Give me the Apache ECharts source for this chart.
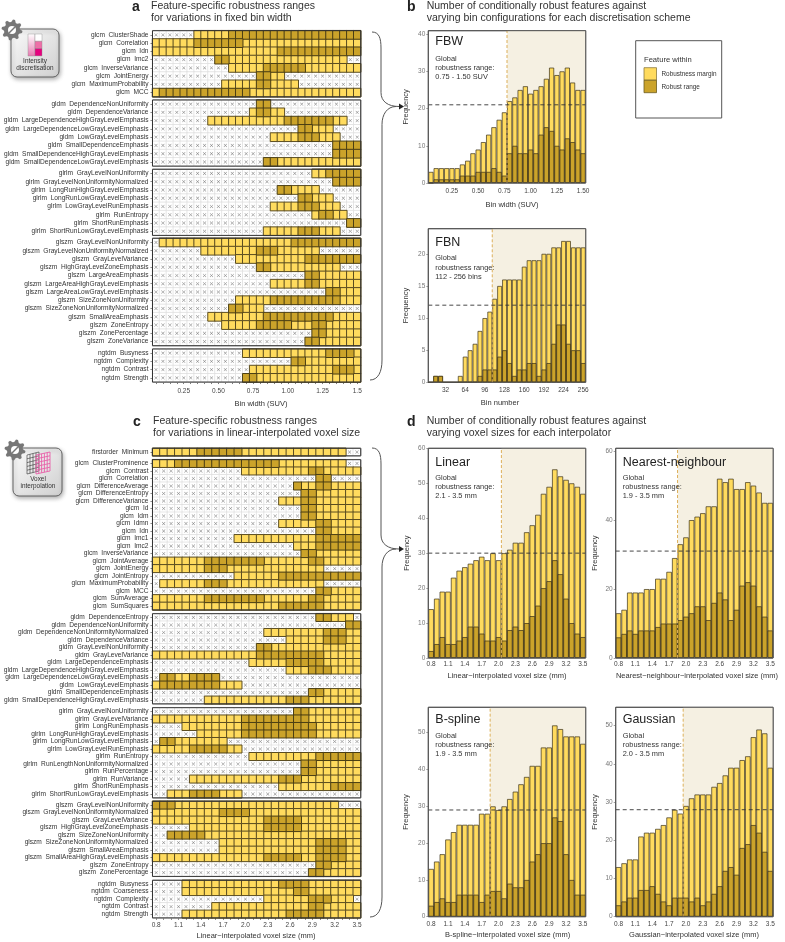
<!DOCTYPE html>
<html lang="en">
<head>
<meta charset="UTF-8" />
<title>Robustness ranges</title>
<script src="https://cdn.jsdelivr.net/npm/echarts@6/dist/echarts.min.js"></script>
<style>
  html, body { margin: 0; padding: 0; background: #fff; }
  #main { width: 785px; height: 942px; }
</style>
</head>
<body>
<div id="main"></div>
<script>
// x axes
const fbwBins = ['0.05','0.10','0.15','0.20','0.25','0.30','0.35','0.40','0.45','0.50','0.55','0.60','0.65','0.70','0.75','0.80','0.85','0.90','0.95','1.00','1.05','1.10','1.15','1.20','1.25','1.30','1.35','1.40','1.45','1.50'];
const fbnBins = ['8','16','24','32','40','48','56','64','72','80','88','96','104','112','120','128','136','144','152','160','168','176','184','192','200','208','216','224','232','240','248','256'];
const voxelBins = ['0.8','0.9','1.0','1.1','1.2','1.3','1.4','1.5','1.6','1.7','1.8','1.9','2.0','2.1','2.2','2.3','2.4','2.5','2.6','2.7','2.8','2.9','3.0','3.1','3.2','3.3','3.4','3.5'];
const fbwTicks = ['0.25','0.50','0.75','1.00','1.25','1.50'];
const fbnTicks = ['32','64','96','128','160','192','224','256'];
const voxelTicks = ['0.8','1.1','1.4','1.7','2.0','2.3','2.6','2.9','3.2','3.5'];

// histogram counts: all = feature within margin, robust = within robust range
const fbwAll = [3,4,4,4,4,4,5,6,8,9,11,13,15,17,19,22,23,25,26,24,25,26,28,31,29,30,31,27,25,25];
const fbwRobust = [0,1,1,1,1,1,2,2,2,3,3,3,4,3,2,8,10,8,8,9,8,13,15,14,10,9,12,11,9,8];
const fbnAll = [0,1,1,0,0,0,1,4,5,6,8,10,11,13,15,16,16,16,16,18,19,19,19,20,20,21,21,22,22,21,21,21];
const fbnRobust = [0,1,1,0,0,0,0,0,0,0,1,2,2,2,4,5,3,1,2,2,3,3,1,2,3,6,9,9,6,5,5,3];
const linearAll = [14,17,19,19,23,25,26,27,28,29,28,30,28,30,31,33,33,36,38,41,47,49,54,52,51,50,49,47];
const linearRobust = [2,4,6,4,4,5,6,9,9,7,5,5,6,5,8,9,8,10,12,15,20,22,28,24,17,10,7,6];
const nearestAll = [13,14,19,19,19,20,20,23,23,25,29,33,35,40,41,42,44,44,52,51,52,49,49,51,50,48,45,45];
const nearestRobust = [6,7,8,7,8,8,8,9,10,10,10,11,12,13,15,15,11,16,19,17,11,14,21,22,21,15,12,8];
const bsplineAll = [13,15,17,21,23,25,25,25,25,28,28,30,29,30,32,34,36,38,41,41,46,46,52,51,49,49,49,47];
const bsplineRobust = [3,4,5,4,4,6,6,6,6,4,6,7,7,5,9,8,8,10,15,17,20,20,27,26,17,10,6,6];
const gaussianAll = [13,14,15,15,21,22,22,23,24,26,28,27,29,31,32,32,32,34,35,37,39,39,41,42,47,49,48,39];
const gaussianRobust = [3,4,5,5,7,7,8,6,4,3,5,5,5,4,5,3,4,6,8,12,13,11,18,19,24,22,17,12];

// heat rows: number of cells + x (not robust) / m (margin) / r (robust range)
const binGlcm = [
  ['ClusterShade','6x 5m 19r'], ['Correlation','6m 7r 17m'], ['Idn','18m 12r'], ['Imc2','9x 2r 17m 2x'],
  ['InverseVariance','11x 5m 6r 8m'], ['JointEnergy','15x 2r 2m 11x'], ['MaximumProbability','10x 5m 2r 4m 9x'], ['MCC','1m 13r 16m']
];
const binGldm = [
  ['DependenceNonUniformity','15x 2r 13x'], ['DependenceVariance','14x 1m 2r 2m 11x'],
  ['LargeDependenceHighGrayLevelEmphasis','8x 11m 7r 2m 2x'], ['LargeDependenceLowGrayLevelEmphasis','21x 2r 3m 4x'],
  ['LowGrayLevelEmphasis','17x 4m 3r 3m 3x'], ['SmallDependenceEmphasis','26x 4r'],
  ['SmallDependenceHighGrayLevelEmphasis','26x 4r'], ['SmallDependenceLowGrayLevelEmphasis','16x 2r 12m']
];
const binGlrlm = [
  ['GrayLevelNonUniformity','23x 2m 5r'], ['GrayLevelNonUniformityNormalized','26x 4r'],
  ['LongRunHighGrayLevelEmphasis','18x 2r 4m 6x'], ['LongRunLowGrayLevelEmphasis','21x 2r 3m 4x'],
  ['LowGrayLevelRunEmphasis','17x 4m 3r 3m 3x'], ['RunEntropy','23x 1m 2r 2m 2x'],
  ['ShortRunEmphasis','28x 2r'], ['ShortRunLowGrayLevelEmphasis','16x 5m 3r 3m 3x']
];
const binGlszm = [
  ['GrayLevelNonUniformity','1x 19m 10r'], ['GrayLevelNonUniformityNormalized','7x 8m 3r 6m 6x'],
  ['GrayLevelVariance','12x 10m 8r'], ['HighGrayLevelZoneEmphasis','15x 2r 10m 3x'],
  ['LargeAreaEmphasis','22x 2r 6m'], ['LargeAreaHighGrayLevelEmphasis','17x 5m 2r 6m'],
  ['LargeAreaLowGrayLevelEmphasis','25x 2r 3m'], ['SizeZoneNonUniformity','12x 5m 10r 3m'],
  ['SizeZoneNonUniformityNormalized','11x 2r 3m 14x'], ['SmallAreaEmphasis','8x 8m 10r 4m'],
  ['ZoneEntropy','10x 5m 5r 3m 2r 5m'], ['ZonePercentage','23x 2r 5m'], ['ZoneVariance','22x 2r 6m']
];
const binNgtdm = [
  ['Busyness','13x 12m 4r 1m'], ['Complexity','20x 2r 8m'], ['Contrast','14x 12m 3r 1m'], ['Strength','13x 2r 15m']
];

const voxFirstorder = [['Minimum','6m 6r 14m 2x']];
const voxGlcm = [
  ['ClusterProminence','3m 14r 9m 2x'], ['Contrast','12x 9m 2r 5m'], ['Correlation','22x 2r 4x'],
  ['DifferenceAverage','19x 1r 2m 2r 4m'], ['DifferenceEntropy','20x 2r 6m'], ['DifferenceVariance','17x 3m 2r 6m'],
  ['Id','20x 2r 6m'], ['Idm','20x 2r 6m'], ['Idmn','17x 5m 2r 4m'], ['Idn','22x 2r 4m'],
  ['Imc1','11x 11m 6r'], ['Imc2','19x 3m 6r'], ['InverseVariance','20x 2r 6m'], ['JointAverage','7m 8r 6m 2r 5m'],
  ['JointEnergy','7m 3r 13m 5x'], ['JointEntropy','11x 6m 11r'], ['MaximumProbability','1x 6m 3r 13m 5x'],
  ['MCC','22x 2r 4m'], ['SumAverage','7m 8r 6m 2r 5m'], ['SumSquares','17m 6r 5m']
];
const voxGldm = [
  ['DependenceEntropy','22x 2r 3m 1x'], ['DependenceNonUniformity','26x 2r'],
  ['DependenceNonUniformityNormalized','15x 8m 3r 2m'], ['DependenceVariance','18x 5m 3r 2m'],
  ['GrayLevelNonUniformity','14x 2r 12m'], ['GrayLevelVariance','14m 9r 5m'],
  ['LargeDependenceEmphasis','13x 5m 5r 5m'], ['LargeDependenceHighGrayLevelEmphasis','18x 3m 3r 4m'],
  ['LargeDependenceLowGrayLevelEmphasis','1x 2r 2m 4r 19x'], ['LowGrayLevelEmphasis','1m 8r 3m 16x'],
  ['SmallDependenceEmphasis','21x 2r 5m'], ['SmallDependenceHighGrayLevelEmphasis','7x 11m 3r 7m']
];
const voxGlrlm = [
  ['GrayLevelNonUniformity','19x 2r 7m'], ['GrayLevelVariance','12m 9r 7m'], ['LongRunEmphasis','4x 8m 10r 6m'],
  ['LongRunHighGrayLevelEmphasis','6x 6m 10r 6m'], ['LongRunLowGrayLevelEmphasis','1x 2r 7m 18x'],
  ['LowGrayLevelRunEmphasis','5m 5r 2m 16x'], ['RunEntropy','13x 9m 6r'],
  ['RunLengthNonUniformityNormalized','20x 2r 6m'], ['RunPercentage','20x 2r 6m'], ['RunVariance','5x 12m 3r 8m'],
  ['ShortRunEmphasis','17x 7m 4r'], ['ShortRunLowGrayLevelEmphasis','2x 3m 4r 3m 16x']
];
const voxGlszm = [
  ['GrayLevelNonUniformity','3r 22m 3x'], ['GrayLevelNonUniformityNormalized','9m 4r 15m'],
  ['GrayLevelVariance','15m 5r 8m'], ['HighGrayLevelZoneEmphasis','5x 10m 5r 8m'],
  ['SizeZoneNonUniformity','2x 5r 21m'], ['SizeZoneNonUniformityNormalized','9x 13m 4r 2m'],
  ['SmallAreaEmphasis','9x 13m 4r 2m'], ['SmallAreaHighGrayLevelEmphasis','15m 5r 2m 4r 2m'],
  ['ZoneEntropy','22x 2r 4m'], ['ZonePercentage','21x 2r 5m']
];
const voxNgtdm = [
  ['Busyness','4x 13m 4r 7m'], ['Coarseness','4x 15m 2r 7m'], ['Complexity','15x 6m 3r 3m 1x'],
  ['Contrast','8x 13m 2r 5m'], ['Strength','4x 14m 5r 5m']
];

const FONT = '"Liberation Sans", Arial, sans-serif';
const YELLOW = '#FFDB5E';
const GOLD = '#CBA32A';
const CROSS = 'path://M1 0L5 4L9 0L10 1L6 5L10 9L9 10L5 6L1 10L0 9L4 5L0 1Z';

const grids = [], xAxes = [], yAxes = [], seriesList = [], graphics = [];

function txt(x, y, text, size, extra) {
  graphics.push({
    type: 'text', x: x, y: y, silent: true, z: 50,
    style: Object.assign({ text: text, font: size + 'px ' + FONT, fill: '#333', verticalAlign: 'middle', align: 'left' }, extra)
  });
}

function frame(x, y, w, h, color) {
  graphics.push({ type: 'rect', silent: true, z: 40, shape: { x: x, y: y, width: w, height: h }, style: { fill: 'none', stroke: color, lineWidth: 1 } });
}

function expandRuns(runs) {
  const cells = [];
  runs.split(' ').forEach(function (run) {
    const n = parseInt(run);
    const state = 'xmr'.indexOf(run.slice(-1));
    for (let i = 0; i < n; i++) cells.push(state);
  });
  return cells;
}

// one facet of the cell chart
function heatFacet(prefix, rows, bins, ticks, left, width, top, rowH, isLast, margin) {
  const idx = grids.length;
  grids.push({ left: left, width: width, top: top, height: rows.length * rowH, show: true, borderColor: '#333', borderWidth: 1, backgroundColor: '#fff' });
  xAxes.push({
    gridIndex: idx, type: 'category', data: bins, position: 'bottom',
    axisLine: { show: false },
    axisTick: { show: isLast, interval: 0, alignWithLabel: true, length: 2, lineStyle: { color: '#444', width: 0.7 } },
    axisLabel: {
      show: isLast, margin: margin, fontSize: 6.5, fontFamily: FONT, color: '#444', hideOverlap: false,
      interval: function (i, v) { return ticks.indexOf(v) >= 0; },
      formatter: function (v) { return v === '1.50' ? '1.5' : v; }
    },
    splitLine: { show: false }
  });
  yAxes.push({
    gridIndex: idx, type: 'category', inverse: true,
    data: rows.map(function (r) { return prefix + '  ' + r[0]; }),
    axisLine: { show: false },
    axisTick: { show: true, interval: 0, alignWithLabel: true, length: 2, lineStyle: { color: '#444', width: 0.7 } },
    axisLabel: { interval: 0, margin: 4, fontSize: 6.6, fontFamily: FONT, color: '#333', hideOverlap: false },
    splitLine: { show: false }
  });
  const buckets = [[], [], []];
  rows.forEach(function (r, ri) {
    expandRuns(r[1]).forEach(function (s, ci) { buckets[s].push([ci, ri, s]); });
  });
  const cellStyles = [
    { color: '#fff', borderColor: '#dcdcdc', borderWidth: 0.7 },
    { color: YELLOW, borderColor: '#5a4c20', borderWidth: 1 },
    { color: GOLD, borderColor: '#4a3e14', borderWidth: 1 }
  ];
  ['Not robust', 'Robustness margin', 'Robust range'].forEach(function (name, s) {
    seriesList.push({
      type: 'heatmap', name: name, xAxisIndex: idx, yAxisIndex: idx, data: buckets[s],
      itemStyle: cellStyles[s], emphasis: { disabled: true }, progressive: 0, silent: true, z: 2 + s
    });
  });
  seriesList.push({
    type: 'scatter', xAxisIndex: idx, yAxisIndex: idx, data: buckets[0].map(function (d) { return [d[0], d[1]]; }),
    symbol: CROSS, symbolSize: 3.4, itemStyle: { color: '#666' }, silent: true, z: 6
  });
  frame(left, top, width, rows.length * rowH, '#333');
}

// one histogram panel
function histogram(cfg) {
  const idx = grids.length;
  const xMain = xAxes.length;
  const n = cfg.bins.length;
  grids.push({ left: cfg.left, width: 157.4, top: cfg.top, height: cfg.height, show: true, borderColor: '#555', borderWidth: 1, backgroundColor: '#fff' });
  xAxes.push({
    gridIndex: idx, type: 'category', data: cfg.bins,
    axisLine: { show: false },
    axisTick: { interval: 0, alignWithLabel: true, length: 2, lineStyle: { color: '#444', width: 0.7 } },
    axisLabel: {
      margin: cfg.margin, fontSize: 6.5, fontFamily: FONT, color: '#444', hideOverlap: false,
      interval: function (i, v) { return cfg.ticks.indexOf(v) >= 0; }
    }
  });
  yAxes.push({
    gridIndex: idx, type: 'value', min: 0, max: cfg.ymax,
    name: 'Frequency', nameLocation: 'middle', nameGap: cfg.nameGap, nameTextStyle: { fontSize: 7.5, fontFamily: FONT, color: '#333' },
    axisLine: { show: false }, splitLine: { show: false },
    axisTick: { length: 2, lineStyle: { color: '#777', width: 0.7 }, customValues: cfg.yTicks },
    axisLabel: { margin: 3, fontSize: 6.5, fontFamily: FONT, color: '#777', customValues: cfg.yTicks }
  });
  // hidden axis in bin units, for the range shading and threshold lines
  const xLine = xAxes.length;
  xAxes.push({ gridIndex: idx, type: 'value', min: 0, max: n, show: false });
  seriesList.push({
    type: 'line', xAxisIndex: xLine, yAxisIndex: idx, data: [], silent: true, z: 1,
    markArea: { silent: true, itemStyle: { color: '#F5F0E2' }, data: [[{ coord: [cfg.startBin, 0] }, { coord: [n, cfg.ymax] }]] }
  });
  const barStyle = function (c) { return { color: c, borderColor: 'rgba(50,42,20,0.75)', borderWidth: 0.9 }; };
  seriesList.push({ type: 'bar', name: 'Robustness margin', xAxisIndex: xMain, yAxisIndex: idx, data: cfg.all, barGap: '-100%', barCategoryGap: 0, itemStyle: barStyle(YELLOW), silent: true, z: 2 });
  seriesList.push({ type: 'bar', name: 'Robust range', xAxisIndex: xMain, yAxisIndex: idx, data: cfg.robust, barGap: '-100%', barCategoryGap: 0, itemStyle: barStyle(GOLD), silent: true, z: 3 });
  seriesList.push({
    type: 'line', xAxisIndex: xLine, yAxisIndex: idx, data: [[cfg.startBin, 0], [cfg.startBin, cfg.ymax]], symbol: 'none', silent: true, z: 4,
    lineStyle: { color: '#DDB05A', width: 1, type: [3, 2] }
  });
  seriesList.push({
    type: 'line', xAxisIndex: xLine, yAxisIndex: idx, data: [[0, cfg.threshold], [n, cfg.threshold]], symbol: 'none', silent: true, z: 5,
    lineStyle: { color: '#333', width: 0.9, type: [4, 3] }
  });
  frame(cfg.left, cfg.top, 157.4, cfg.height, '#555');
  txt(cfg.left + 7, cfg.labelY, cfg.label, 12.5, { fill: '#222' });
  cfg.note.forEach(function (line, i) {
    txt(cfg.left + 7, cfg.noteY + i * 9.2, line, 7.4, { fill: '#333' });
  });
  txt(cfg.nameX, cfg.nameY, cfg.xName, 7.5, { align: 'center' });
}

const aLeft = 152.5, aWidth = 208.2, aRow = 8.26;
heatFacet('glcm', binGlcm, fbwBins, fbwTicks, aLeft, aWidth, 30.7, aRow, false, 5);
heatFacet('gldm', binGldm, fbwBins, fbwTicks, aLeft, aWidth, 100, aRow, false, 5);
heatFacet('glrlm', binGlrlm, fbwBins, fbwTicks, aLeft, aWidth, 169.3, aRow, false, 5);
heatFacet('glszm', binGlszm, fbwBins, fbwTicks, aLeft, aWidth, 238.3, aRow, false, 5);
heatFacet('ngtdm', binNgtdm, fbwBins, fbwTicks, aLeft, aWidth, 349, aRow, true, 6);
const cRow = 7.51;
heatFacet('firstorder', voxFirstorder, voxelBins, voxelTicks, aLeft, aWidth, 448.3, cRow, false, 5);
heatFacet('glcm', voxGlcm, voxelBins, voxelTicks, aLeft, aWidth, 459.7, cRow, false, 5);
heatFacet('gldm', voxGldm, voxelBins, voxelTicks, aLeft, aWidth, 613.7, cRow, false, 5);
heatFacet('glrlm', voxGlrlm, voxelBins, voxelTicks, aLeft, aWidth, 707.7, cRow, false, 5);
heatFacet('glszm', voxGlszm, voxelBins, voxelTicks, aLeft, aWidth, 801.3, cRow, false, 5);
heatFacet('ngtdm', voxNgtdm, voxelBins, voxelTicks, aLeft, aWidth, 880.3, cRow, true, 4);
txt(261, 404, 'Bin width (SUV)', 7.5, { align: 'center' });
txt(256, 936, 'Linear\u2212interpolated voxel size (mm)', 7.5, { align: 'center' });

histogram({ bins: fbwBins, ticks: fbwTicks, all: fbwAll, robust: fbwRobust, left: 428.3, top: 30.7, height: 152.3, ymax: 40.9, yTicks: [0,10,20,30,40], startBin: 15, threshold: 21, margin: 5, nameGap: 18, label: 'FBW', labelY: 42, note: ['Global', 'robustness range:', '0.75 - 1.50 SUV'], noteY: 58.5, xName: 'Bin width (SUV)', nameX: 512, nameY: 204.7 });
histogram({ bins: fbnBins, ticks: fbnTicks, all: fbnAll, robust: fbnRobust, left: 428.3, top: 228.7, height: 153.6, ymax: 23.9, yTicks: [0,5,10,15,20], startBin: 13, threshold: 12, margin: 4, nameGap: 18, label: 'FBN', labelY: 242.7, note: ['Global', 'robustness range:', '112 - 256 bins'], noteY: 258.3, xName: 'Bin number', nameX: 500, nameY: 402.5 });
histogram({ bins: voxelBins, ticks: voxelTicks, all: linearAll, robust: linearRobust, left: 428.3, top: 448.3, height: 209.7, ymax: 60, yTicks: [0,10,20,30,40,50,60], startBin: 13, threshold: 30, margin: 3, nameGap: 17, label: 'Linear', labelY: 462.7, note: ['Global', 'robustness range:', '2.1 - 3.5 mm'], noteY: 477.5, xName: 'Linear\u2212interpolated voxel size (mm)', nameX: 507, nameY: 675.7 });
histogram({ bins: voxelBins, ticks: voxelTicks, all: nearestAll, robust: nearestRobust, left: 615.7, top: 448.3, height: 209.7, ymax: 60.8, yTicks: [0,20,40,60], startBin: 11, threshold: 31, margin: 3, nameGap: 17, label: 'Nearest-neighbour', labelY: 462.7, note: ['Global', 'robustness range:', '1.9 - 3.5 mm'], noteY: 477.5, xName: 'Nearest\u2212neighbour\u2212interpolated voxel size (mm)', nameX: 697, nameY: 675.7 });
histogram({ bins: voxelBins, ticks: voxelTicks, all: bsplineAll, robust: bsplineRobust, left: 428.3, top: 707.3, height: 209.4, ymax: 56.9, yTicks: [0,10,20,30,40,50], startBin: 11, threshold: 29, margin: 4, nameGap: 18, label: 'B-spline', labelY: 720, note: ['Global', 'robustness range:', '1.9 - 3.5 mm'], noteY: 736, xName: 'B-spline\u2212interpolated voxel size (mm)', nameX: 507.7, nameY: 935 });
histogram({ bins: voxelBins, ticks: voxelTicks, all: gaussianAll, robust: gaussianRobust, left: 615.7, top: 707.3, height: 209.4, ymax: 54.8, yTicks: [0,10,20,30,40,50], startBin: 12, threshold: 28, margin: 4, nameGap: 17, label: 'Gaussian', labelY: 720, note: ['Global', 'robustness range:', '2.0 - 3.5 mm'], noteY: 736, xName: 'Gaussian\u2212interpolated voxel size (mm)', nameX: 694, nameY: 935 });

// panel letters and titles
function panelTitle(letter, lx, x, y, a, b) {
  txt(lx, y + 1, letter, 14, { fill: '#222', font: 'bold 14px ' + FONT });
  txt(x, y, a, 10.5, { fill: '#333' });
  txt(x, y + 12.5, b, 10.5, { fill: '#333' });
}
panelTitle('a', 132, 151, 6, 'Feature-specific robustness ranges', 'for variations in fixed bin width');
panelTitle('b', 407, 426.7, 6, 'Number of conditionally robust features against', 'varying bin configurations for each discretisation scheme');
panelTitle('c', 133, 153, 421, 'Feature-specific robustness ranges', 'for variations in linear-interpolated voxel size');
panelTitle('d', 407, 426.7, 421, 'Number of conditionally robust features against', 'varying voxel sizes for each interpolator');

// legend
graphics.push({ type: 'rect', silent: true, shape: { x: 635.7, y: 40.7, width: 86, height: 77.3 }, style: { fill: '#fff', stroke: '#555', lineWidth: 1 } });
txt(644, 60, 'Feature within', 7.6, {});
graphics.push({ type: 'rect', silent: true, shape: { x: 644, y: 67.7, width: 12.5, height: 12.5 }, style: { fill: YELLOW, stroke: '#8a7a40', lineWidth: 0.8 } });
graphics.push({ type: 'rect', silent: true, shape: { x: 644, y: 80.2, width: 12.5, height: 12.5 }, style: { fill: GOLD, stroke: '#6a5a20', lineWidth: 0.8 } });
txt(661.5, 74, 'Robustness margin', 6.4, {});
txt(661.5, 87, 'Robust range', 6.4, {});

// braces with arrowheads
function bez(x1, y1, cx1, cy1, cx2, cy2, x2, y2) {
  graphics.push({ type: 'bezierCurve', silent: true, shape: { x1: x1, y1: y1, cpx1: cx1, cpy1: cy1, cpx2: cx2, cpy2: cy2, x2: x2, y2: y2 }, style: { stroke: '#555', lineWidth: 1, fill: 'none' } });
}
function seg(x1, y1, x2, y2) {
  graphics.push({ type: 'line', silent: true, shape: { x1: x1, y1: y1, x2: x2, y2: y2 }, style: { stroke: '#555', lineWidth: 1 } });
}
function brace(top, mid, bottom) {
  bez(372, top, 379, top, 381, top + 6, 381, top + 16);
  seg(381, top + 16, 381, mid - 14);
  bez(381, mid - 14, 381, mid - 5, 388, mid, 399, mid);
  bez(396, mid, 387, mid, 382, mid + 8, 382, mid + 18);
  seg(382, mid + 18, 382, bottom - 20);
  bez(382, bottom - 20, 382, bottom - 8, 378, bottom, 370, bottom);
  graphics.push({ type: 'polygon', silent: true, shape: { points: [[399, mid - 3], [404, mid], [399, mid + 3]] }, style: { fill: '#222' } });
}
brace(32, 106.5, 380);
brace(448, 549, 917);

// little icons
function gear(cx, cy) {
  const pts = [];
  for (let i = 0; i < 32; i++) {
    const r = (i % 4 < 2) ? 10.5 : 8;
    const a = (i + 0.5) / 32 * Math.PI * 2;
    pts.push([cx + r * Math.cos(a), cy + r * Math.sin(a)]);
  }
  graphics.push({ type: 'polygon', silent: true, shape: { points: pts }, style: { fill: '#777' } });
  graphics.push({ type: 'circle', silent: true, shape: { cx: cx, cy: cy, r: 4 }, style: { fill: '#fff' } });
  graphics.push({ type: 'line', silent: true, shape: { x1: cx - 3, y1: cy + 3, x2: cx + 3, y2: cy - 3 }, style: { stroke: '#777', lineWidth: 1.5 } });
}
function iconBox(x, y, w, h) {
  graphics.push({
    type: 'rect', silent: true, shape: { x: x, y: y, width: w, height: h, r: 6 },
    style: {
      fill: new echarts.graphic.LinearGradient(0, 0, 1, 1, [{ offset: 0, color: '#fbfbfb' }, { offset: 1, color: '#cfcfcf' }]),
      stroke: '#555', lineWidth: 0.9, shadowBlur: 4, shadowColor: 'rgba(0,0,0,0.3)', shadowOffsetY: 2, shadowOffsetX: 1
    }
  });
}
iconBox(11, 29, 48, 48);
gear(12, 30);
graphics.push({ type: 'rect', silent: true, shape: { x: 28, y: 34, width: 7, height: 22 }, style: { fill: new echarts.graphic.LinearGradient(0, 0, 0, 1, [{ offset: 0, color: '#fff' }, { offset: 1, color: '#E878B0' }]), stroke: '#888', lineWidth: 0.4 } });
[['#fff', 34], ['#EE6FA8', 41.3], ['#E6007E', 48.6]].forEach(function (b) {
  graphics.push({ type: 'rect', silent: true, shape: { x: 35, y: b[1], width: 7, height: 7.3 }, style: { fill: b[0], stroke: '#888', lineWidth: 0.4 } });
});
txt(35, 61.5, 'Intensity', 6.4, { align: 'center', fill: '#333' });
txt(35, 68.5, 'discretisation', 6.4, { align: 'center', fill: '#333' });

iconBox(13, 448, 49, 48);
gear(15, 450);
function skewGrid(x0, y0, w, h, cols, rows, color, width) {
  for (let i = 0; i <= cols; i++) {
    const x = x0 + w * i / cols;
    graphics.push({ type: 'line', silent: true, shape: { x1: x, y1: y0 + 3 - 3 * i / cols, x2: x, y2: y0 + h + 3 - 3 * i / cols }, style: { stroke: color, lineWidth: width } });
  }
  for (let j = 0; j <= rows; j++) {
    const y = y0 + h * j / rows;
    graphics.push({ type: 'line', silent: true, shape: { x1: x0, y1: y + 3, x2: x0 + w, y2: y }, style: { stroke: color, lineWidth: width } });
  }
}
skewGrid(27, 452, 12, 19, 4, 5, '#333', 0.6);
skewGrid(36, 452, 14, 19, 5, 5, '#E860A8', 0.9);
txt(38, 479.5, 'Voxel', 6.4, { align: 'center', fill: '#333' });
txt(38, 486.5, 'interpolation', 6.4, { align: 'center', fill: '#333' });

const chart = echarts.init(document.getElementById('main'), null, { renderer: 'canvas' });
chart.setOption({
  animation: false,
  backgroundColor: '#fff',
  textStyle: { fontFamily: FONT },
  grid: grids,
  xAxis: xAxes,
  yAxis: yAxes,
  series: seriesList,
  graphic: { elements: graphics }
});
</script>
</body>
</html>
